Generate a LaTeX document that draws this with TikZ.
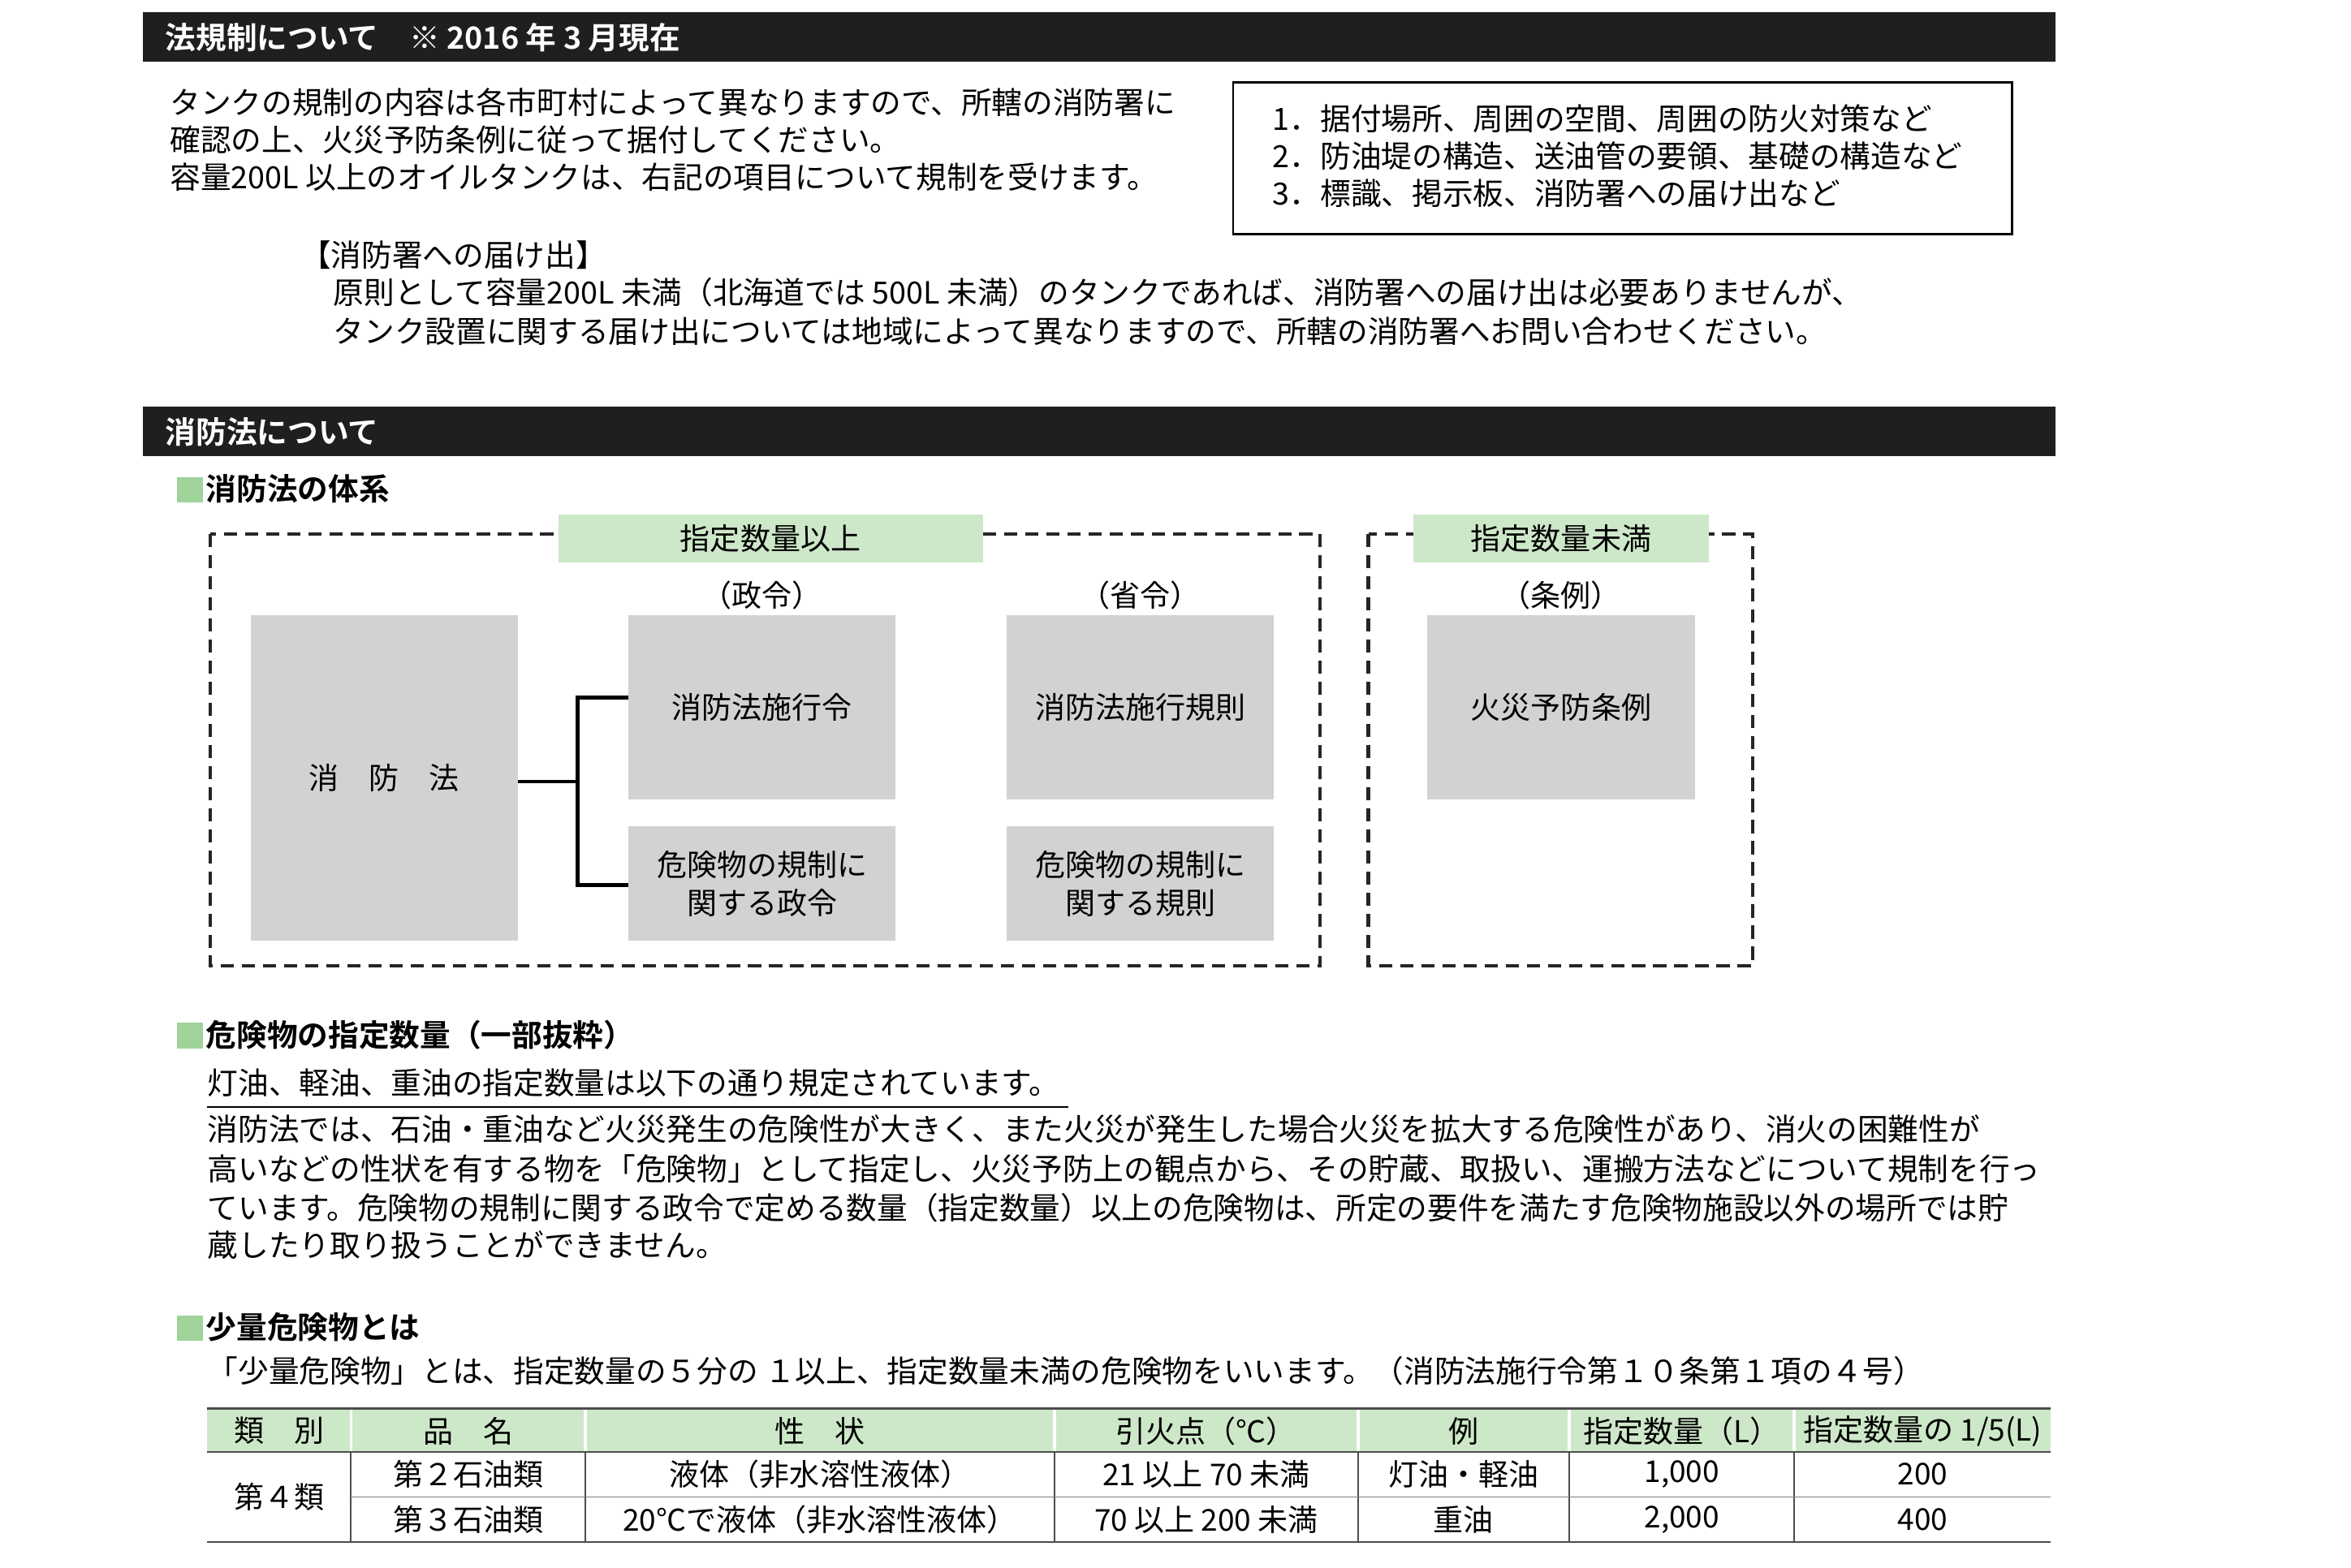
\documentclass[tikz,border=0pt]{standalone}
\usepackage{fontspec}
\setmainfont{Noto Sans CJK JP}
\newfontfamily\jpb{Noto Sans CJK JP Bold}
\definecolor{grn}{HTML}{CDE8C8}
\definecolor{gsq}{HTML}{9FD39A}
\definecolor{gbox}{HTML}{D2D2D4}
\begin{document}
\begin{tikzpicture}[x=0.02cm,y=-0.02cm,
  txt/.style={anchor=west,inner sep=0,font=\fontsize{11.6}{12}\selectfont},
  bar/.style={fill=black!88,draw=none},
  bartxt/.style={anchor=west,inner sep=0,text=white,font=\jpb\fontsize{11.6}{12}\selectfont},
  ttl/.style={anchor=west,inner sep=0,font=\jpb\fontsize{11.6}{12}\selectfont},
  gb/.style={fill=gbox,draw=none,inner sep=0,align=center,font=\fontsize{11.4}{14.5}\selectfont},
  lab/.style={fill=grn,draw=none,inner sep=0,font=\fontsize{11.4}{12}\selectfont},
  dbox/.style={draw=black!85,line width=1.3pt,dash pattern=on 5pt off 3pt},
  cell/.style={inner sep=0,font=\fontsize{11.4}{12}\selectfont}]
\useasboundingbox (0,0) rectangle (1567,1045);
% header 1
\fill[bar] (95,8) rectangle (1370,41);
\node[bartxt] (h1) at (110,25) {法規制について　※ 2016 年 3 月現在};
\node[txt] (p1) at (113,68) {タンクの規制の内容は各市町村によって異なりますので、所轄の消防署に};
\node[txt] (p2) at (113,93) {確認の上、火災予防条例に従って据付してください。};
\node[txt] (p3) at (113,118) {容量200L 以上のオイルタンクは、右記の項目について規制を受けます。};
\draw[line width=0.8pt] (822,55) rectangle (1341,156);
\node[txt] (r1) at (848,79) {1．据付場所、周囲の空間、周囲の防火対策など};
\node[txt] (r2) at (848,104) {2．防油堤の構造、送油管の要領、基礎の構造など};
\node[txt] (r3) at (848,129) {3．標識、掲示板、消防署への届け出など};
\node[txt] (n0) at (200,170) {【消防署への届け出】};
\node[txt] (n1) at (222,195) {原則として容量200L 未満（北海道では 500L 未満）のタンクであれば、消防署への届け出は必要ありませんが、};
\node[txt] (n2) at (222,221) {タンク設置に関する届け出については地域によって異なりますので、所轄の消防署へお問い合わせください。};
% header 2
\fill[bar] (95,271) rectangle (1370,304);
\node[bartxt] (h2) at (110,288) {消防法について};
\fill[gsq] (118,318) rectangle (135,335);
\node[ttl] (t1) at (137,326) {消防法の体系};
% dashed boxes
\draw[dbox] (140,356) rectangle (880,644);
\draw[dbox] (912,356) rectangle (1168,644);
\node[lab,minimum width=283*0.02cm,minimum height=32*0.02cm] (L1) at (513.5,359) {指定数量以上};
\node[lab,minimum width=197*0.02cm,minimum height=32*0.02cm] (L2) at (1040.5,359) {指定数量未満};
\node[cell] at (508,397) {（政令）};
\node[cell] at (760,397) {（省令）};
\node[cell] at (1040,397) {（条例）};
\node[gb,minimum width=178*0.02cm,minimum height=217*0.02cm] (law) at (256,518.5) {消　防　法};
\node[gb,minimum width=178*0.02cm,minimum height=123*0.02cm] (rei) at (508,471.5) {消防法施行令};
\node[gb,minimum width=178*0.02cm,minimum height=76*0.02cm] (kseirei) at (508,589) {危険物の規制に\\関する政令};
\node[gb,minimum width=178*0.02cm,minimum height=123*0.02cm] (kisoku) at (760,471.5) {消防法施行規則};
\node[gb,minimum width=178*0.02cm,minimum height=76*0.02cm] (kkisoku) at (760,589) {危険物の規制に\\関する規則};
\node[gb,minimum width=179*0.02cm,minimum height=123*0.02cm] (jorei) at (1040.5,471.5) {火災予防条例};
\coordinate (jn) at (385,521);
\draw[line width=1.3pt] (law.east|-jn) -- (jn);
\draw[line width=1.3pt] (rei.west|-0,465) -| (385,590) -- (kseirei.west|-0,590);
% section 2
\fill[gsq] (118,682) rectangle (135,699);
\node[ttl] (t2) at (137,690) {危険物の指定数量（一部抜粋）};
\node[txt] (u1) at (138,722) {灯油、軽油、重油の指定数量は以下の通り規定されています。};
\draw[line width=0.8pt] (138,738) -- (712,738);
\node[txt] at (138,753) {消防法では、石油・重油など火災発生の危険性が大きく、また火災が発生した場合火災を拡大する危険性があり、消火の困難性が};
\node[txt] at (138,779) {高いなどの性状を有する物を「危険物」として指定し、火災予防上の観点から、その貯蔵、取扱い、運搬方法などについて規制を行っ};
\node[txt] at (138,805) {ています。危険物の規制に関する政令で定める数量（指定数量）以上の危険物は、所定の要件を満たす危険物施設以外の場所では貯};
\node[txt] at (138,830) {蔵したり取り扱うことができません。};
% section 3
\fill[gsq] (118,877) rectangle (135,894);
\node[ttl] (t3) at (137,885) {少量危険物とは};
\node[txt] at (138,914) {「少量危険物」とは、指定数量の５分の １以上、指定数量未満の危険物をいいます。（消防法施行令第１０条第１項の４号）};
% table
\fill[grn] (138,939) rectangle (1367,968);
\foreach \x in {234,390,703,905,1046,1196} \draw[white,line width=1.2pt] (\x,939) -- (\x,968);
\foreach \x in {234,390,703,905,1046,1196} \draw[black!70,line width=0.6pt] (\x,968) -- (\x,1028);
\draw[black!70,line width=0.8pt] (138,939) -- (1367,939);
\draw[black!70,line width=0.8pt] (138,968) -- (1367,968);
\draw[black!50,line width=0.5pt] (234,998) -- (1367,998);
\draw[black!70,line width=0.8pt] (138,1028) -- (1367,1028);
\node[cell] at (186,954) {類　別};
\node[cell] at (312,954) {品　名};
\node[cell] at (546.5,954) {性　状};
\node[cell] at (804,954) {引火点（℃）};
\node[cell] at (975.5,954) {例};
\node[cell] at (1121,954) {指定数量（L）};
\node[cell] at (1281.5,954) {指定数量の 1/5(L)};
\node[cell] at (186,998) {第４類};
\node[cell] at (312,983) {第２石油類};
\node[cell] at (546.5,983) {液体（非水溶性液体）};
\node[cell] at (804,983) {21 以上 70 未満};
\node[cell] at (975.5,983) {灯油・軽油};
\node[cell] at (1121,983) {1,000};
\node[cell] at (1281.5,983) {200};
\node[cell] at (312,1013) {第３石油類};
\node[cell] at (546.5,1013) {20℃で液体（非水溶性液体）};
\node[cell] at (804,1013) {70 以上 200 未満};
\node[cell] at (975.5,1013) {重油};
\node[cell] at (1121,1013) {2,000};
\node[cell] at (1281.5,1013) {400};
\end{tikzpicture}
\end{document}
